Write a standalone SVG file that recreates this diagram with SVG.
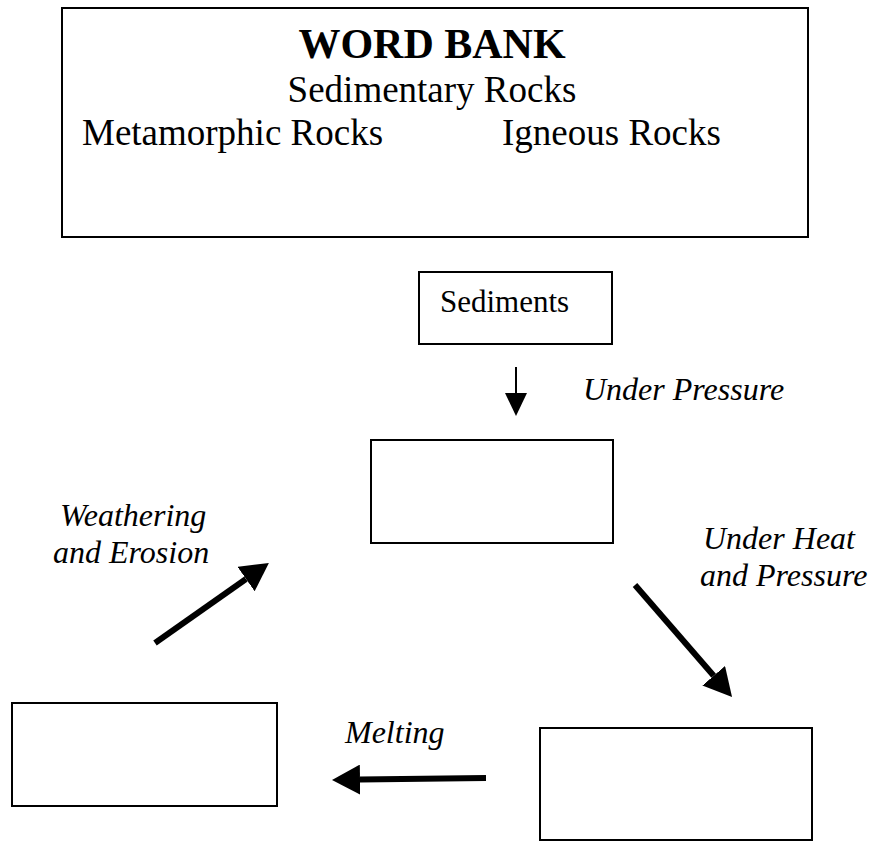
<svg xmlns="http://www.w3.org/2000/svg" width="875" height="841" viewBox="0 0 875 841">
<style>
  .box { fill: #fff; stroke: #000; stroke-width: 2; }
  .t { font-family: "Liberation Serif", "Times New Roman", serif; fill: #000; }
  .wb { font-size: 37px; }
  .lab { font-size: 32px; font-style: italic; }
  .thin { stroke: #000; stroke-width: 2; fill: none; }
  .thick { stroke: #000; stroke-width: 6; fill: none; }
</style>
<defs>
  <marker id="small" markerUnits="userSpaceOnUse" markerWidth="23" markerHeight="22" refX="0" refY="11" orient="auto">
    <path d="M0,0 L23,11 L0,22 Z" fill="#000"/>
  </marker>
  <marker id="big" markerUnits="userSpaceOnUse" markerWidth="28" markerHeight="30" refX="0" refY="15" orient="auto">
    <path d="M0,0 L28,15 L0,30 Z" fill="#000"/>
  </marker>
</defs>
<rect width="875" height="841" fill="#fff"/>

<g id="word-bank">
  <rect class="box" x="62" y="8" width="746" height="229"/>
  <text class="t" x="432" y="58" text-anchor="middle" font-size="42" font-weight="bold">WORD BANK</text>
  <text class="t wb" x="432" y="102" text-anchor="middle">Sedimentary Rocks</text>
  <text class="t wb" x="82" y="145">Metamorphic Rocks</text>
  <text class="t wb" x="502" y="145">Igneous Rocks</text>
</g>

<g id="sediments">
  <rect class="box" x="419" y="272" width="193" height="72"/>
  <text class="t" x="440" y="312" font-size="31">Sediments</text>
</g>

<g id="box-top">
  <rect class="box" x="371" y="440" width="242" height="103"/>
</g>

<g id="box-left">
  <rect class="box" x="12" y="703" width="265" height="103"/>
</g>

<g id="box-right">
  <rect class="box" x="540" y="728" width="272" height="112"/>
</g>

<g id="connectors">
  <line class="thin" x1="516" y1="367" x2="516" y2="393" marker-end="url(#small)"/>
  <line class="thick" x1="635" y1="585" x2="713.7" y2="675.8" marker-end="url(#big)"/>
  <line class="thick" x1="486" y1="778" x2="360" y2="779.6" marker-end="url(#big)"/>
  <line class="thick" x1="155" y1="643" x2="246" y2="579" marker-end="url(#big)"/>
</g>

<g id="labels">
  <text class="t lab" x="583" y="400">Under Pressure</text>
  <text class="t lab" x="703" y="549">Under Heat</text>
  <text class="t lab" x="700" y="586">and Pressure</text>
  <text class="t lab" x="345" y="743">Melting</text>
  <text class="t lab" x="60" y="526">Weathering</text>
  <text class="t lab" x="53" y="563">and Erosion</text>
</g>
</svg>
